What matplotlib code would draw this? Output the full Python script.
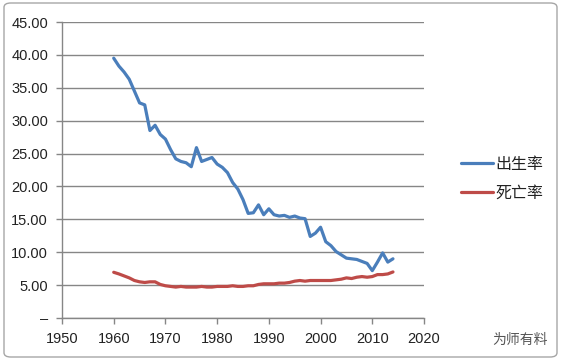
import matplotlib
matplotlib.use("Agg")
import matplotlib.pyplot as plt
from matplotlib.patches import FancyBboxPatch

plt.rcParams['font.family'] = ['Liberation Sans', 'Noto Sans CJK SC', 'DejaVu Sans']

years = list(range(1960, 2015))
birth_rate = [39.5, 38.3, 37.4, 36.3, 34.5, 32.7, 32.4, 28.5, 29.3, 27.9,
              27.2, 25.6, 24.2, 23.8, 23.6, 23.0, 25.9, 23.8, 24.1, 24.4,
              23.4, 22.9, 22.1, 20.6, 19.6, 18.0, 15.9, 16.0, 17.2, 15.7,
              16.6, 15.7, 15.5, 15.6, 15.3, 15.5, 15.2, 15.1, 12.4, 12.9,
              13.8, 11.6, 11.0, 10.1, 9.6, 9.1, 9.0, 8.9, 8.6, 8.3,
              7.2, 8.5, 9.9, 8.5, 9.0]
death_rate = [6.95, 6.7, 6.4, 6.1, 5.7, 5.5, 5.4, 5.5, 5.5, 5.1,
              4.9, 4.8, 4.7, 4.8, 4.7, 4.7, 4.7, 4.8, 4.7, 4.7,
              4.8, 4.8, 4.8, 4.9, 4.8, 4.8, 4.9, 4.9, 5.1, 5.2,
              5.2, 5.2, 5.3, 5.3, 5.4, 5.6, 5.7, 5.6, 5.7, 5.7,
              5.7, 5.7, 5.7, 5.8, 5.9, 6.1, 6.0, 6.2, 6.3, 6.2,
              6.3, 6.6, 6.6, 6.7, 7.0]
series_names = ['出生率', '死亡率']
y_ticks = [0, 5, 10, 15, 20, 25, 30, 35, 40, 45]
y_labels = ['–', '5.00', '10.00', '15.00', '20.00', '25.00', '30.00', '35.00', '40.00', '45.00']
x_ticks = [1950, 1960, 1970, 1980, 1990, 2000, 2010, 2020]

W, H = 564, 360
fig = plt.figure(figsize=(W / 100, H / 100), dpi=100)
fig.patch.set_facecolor('white')

frame = FancyBboxPatch((4 / W, 3 / H), 553 / W, 354 / H,
                       boxstyle="round,pad=0,rounding_size=0.012",
                       transform=fig.transFigure, facecolor='none',
                       edgecolor='#a6a6a6', linewidth=1.0, zorder=-1)
fig.patches.append(frame)

ax = fig.add_axes([62 / W, (H - 318) / H, (424 - 62) / W, (318 - 22) / H])
ax.set_facecolor('none')

ax.plot(years, birth_rate, color='#4a7ebb', lw=2.3, solid_joinstyle='round',
        solid_capstyle='round', label=series_names[0], zorder=3)
ax.plot(years, death_rate, color='#be4b48', lw=2.3, solid_joinstyle='round',
        solid_capstyle='round', label=series_names[1], zorder=3)

ax.set_xlim(1950, 2020)
ax.set_ylim(0, 45)
ax.set_yticks(y_ticks)
ax.set_yticklabels(y_labels)
ax.set_xticks(x_ticks)
ax.yaxis.grid(True, color='#868686', lw=1.0)
ax.set_axisbelow(True)
for s in ['top', 'right']:
    ax.spines[s].set_visible(False)
for s in ['left', 'bottom']:
    ax.spines[s].set_color('#868686')
    ax.spines[s].set_linewidth(1.0)
ax.tick_params(axis='both', colors='#868686', length=4, width=1.0,
               labelcolor='#222222', labelsize=10.5)
ax.tick_params(axis='x', pad=6)
ax.tick_params(axis='y', pad=6)

leg = fig.legend(loc='center left', bbox_to_anchor=(461 / W, 1 - 179 / H),
                 frameon=False, handlelength=2.0, borderpad=0, borderaxespad=0,
                 handletextpad=0.15, labelspacing=0.75,
                 prop={'family': ['Noto Sans CJK SC'], 'size': 11.5})
for t in leg.get_texts():
    t.set_color('#222222')

fig.text(492 / W, 1 - 340 / H, '为师有料', family=['Noto Sans CJK SC'],
         fontsize=10, color='#555555', va='center', ha='left')

fig.savefig('out.png', dpi=100)
